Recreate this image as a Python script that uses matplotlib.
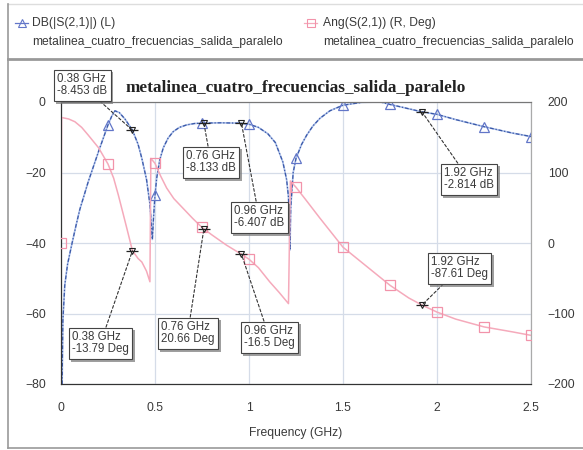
import numpy as np
import matplotlib
matplotlib.use("Agg")
import matplotlib.pyplot as plt
import matplotlib.patheffects as pe
from matplotlib.lines import Line2D

plt.rcParams['font.family'] = ['Liberation Sans', 'DejaVu Sans']

# ---- data: DB(|S(2,1)|) ----
freq_db = [0.005, 0.01, 0.02, 0.035, 0.057, 0.08, 0.10, 0.145, 0.20, 0.23, 0.25, 0.27,
           0.287, 0.31, 0.34, 0.38, 0.41, 0.43, 0.455, 0.473, 0.486, 0.492, 0.50, 0.509,
           0.525, 0.544, 0.57, 0.597, 0.63, 0.668, 0.71, 0.75, 0.85, 0.95, 1.0, 1.05,
           1.10, 1.14, 1.18, 1.20, 1.21, 1.218, 1.222, 1.235, 1.25, 1.28, 1.307, 1.34,
           1.378, 1.43, 1.5, 1.6, 1.7, 1.75, 1.8, 1.92, 2.0, 2.1, 2.25, 2.4, 2.5]
db = [-85, -62, -52, -46, -40.5, -35, -30.5, -22.6, -14, -9.5, -6.5, -4,
      -2.5, -3, -4.8, -8, -12, -16, -22, -29, -39, -33, -26.4, -21.6,
      -16.5, -13, -10.2, -8.4, -7.2, -6.5, -6.1, -6.0, -5.9, -6.0, -6.3, -7.2,
      -9, -11.5, -17, -22, -27, -42, -30, -20, -16, -12, -9.4, -6.8,
      -4.6, -2.5, -0.9, -0.1, 0.0, -0.7, -1.3, -2.8, -3.5, -5, -7, -8.8, -9.8]

# ---- data: Ang(S(2,1)) in degrees ----
freq_ang = [0.0, 0.003, 0.04, 0.074, 0.11, 0.145, 0.20, 0.25, 0.28, 0.305, 0.33, 0.35,
            0.38, 0.41, 0.43, 0.455, 0.473, 0.478, 0.50, 0.53, 0.562, 0.60, 0.65, 0.70,
            0.75, 0.80, 0.88, 0.96, 1.0, 1.05, 1.11, 1.16, 1.21, 1.22, 1.25, 1.30,
            1.375, 1.5, 1.625, 1.75, 1.85, 1.92, 2.0, 2.1, 2.25, 2.4, 2.5]
ang = [0, 178, 176, 172, 164, 153, 135, 112, 92, 68, 42, 21,
       -11, -22, -27, -40, -55, 120, 113, 95, 78, 63, 49, 35,
       22, 12, -3, -16, -23, -35, -55, -70, -86, 88, 79, 62,
       36, -6, -33, -60, -78, -88, -98, -108, -119, -126, -131]

symbol_freqs = [0.0, 0.25, 0.5, 0.75, 1.0, 1.25, 1.5, 1.75, 2.0, 2.25, 2.5]

# markers (frequency, label)
db_marker_freqs = [0.38, 0.76, 0.96, 1.92]
db_marker_labels = ["0.38 GHz\n-8.453 dB", "0.76 GHz\n-8.133 dB",
                    "0.96 GHz\n-6.407 dB", "1.92 GHz\n-2.814 dB"]
ang_marker_freqs = [0.38, 0.76, 0.96, 1.92]
ang_marker_labels = ["0.38 GHz\n-13.79 Deg", "0.76 GHz\n20.66 Deg",
                     "0.96 GHz\n-16.5 Deg", "1.92 GHz\n-87.61 Deg"]

x_ticks = [0, 0.5, 1, 1.5, 2, 2.5]
x_tick_labels = ["0", "0.5", "1", "1.5", "2", "2.5"]
db_ticks = [-80, -60, -40, -20, 0]
ang_ticks = [-200, -100, 0, 100, 200]

title = "metalinea_cuatro_frecuencias_salida_paralelo"
legend1 = ("DB(|S(2,1)|) (L)", title)
legend2 = ("Ang(S(2,1)) (R, Deg)", title)

W, H = 583, 450
fig = plt.figure(figsize=(W / 100, H / 100), dpi=100)

def fp(x, y):
    return (x / W, 1 - y / H)

ax = fig.add_axes([61 / W, 1 - 384 / H, 470 / W, 282 / H])
ax2 = ax.twinx()

blue_light = '#a9bde8'
blue_dark = '#3a58a8'
pink = '#f5aabb'
txt = '#3a3a3a'

# pink angle curve
ax2.plot(freq_ang, ang, color=pink, lw=1.1, zorder=2)
ax2.plot(symbol_freqs, np.interp(symbol_freqs, freq_ang, ang), ls='none', marker='s',
         ms=7, mfc='none', mec='#f293aa', mew=0.9, zorder=3)

# blue dB curve
ax.plot(freq_db, db, color=blue_light, lw=1.2, zorder=2)
ax.plot(freq_db, db, color=blue_dark, lw=0.9, ls=(0, (3, 1.5, 1, 1.5)), zorder=2)
ax.plot(symbol_freqs, np.interp(symbol_freqs, freq_db, db), ls='none', marker='^',
        ms=7, mfc='none', mec='#6276c8', mew=0.9, zorder=3)

ax.set_xlim(0, 2.5)
ax.set_ylim(-80, 0)
ax2.set_ylim(-200, 200)
ax.set_xticks(x_ticks)
ax.set_xticklabels(x_tick_labels)
ax.set_yticks(db_ticks)
ax2.set_yticks(ang_ticks)
ax.grid(True, color='#d5dce8', lw=0.9)
ax.set_axisbelow(True)
ax.tick_params(axis='both', length=0, labelsize=8.7, labelcolor=txt)
ax.tick_params(axis='y', pad=11)
ax.tick_params(axis='x', pad=13)
ax2.tick_params(axis='y', length=0, labelsize=8.7, labelcolor=txt, pad=12)
ax.set_xlabel("Frequency (GHz)", fontsize=8.7, color=txt, labelpad=9)

for a in (ax, ax2):
    a.spines['left'].set_color('#333333')
    a.spines['bottom'].set_color('#333333')
    a.spines['top'].set_color('#777777')
    a.spines['right'].set_color('#aaaaaa')
    a.patch.set_visible(False)

fig.text(*fp(296, 88), title, ha='center', va='center', fontsize=12.4,
         fontweight='bold', family=['Liberation Serif', 'DejaVu Serif'], color='#222222')

# marker symbols
db_my = np.interp(db_marker_freqs, freq_db, db)
ang_my = np.interp(ang_marker_freqs, freq_ang, ang)
for f, v in zip(db_marker_freqs, db_my):
    ax.plot([f], [v], marker='v', ms=4, mfc='none', mec='#222222', mew=0.8, zorder=6)
    ax.plot([f], [v], marker='_', ms=8, mec='#222222', mew=0.9, zorder=6)
for f, v in zip(ang_marker_freqs, ang_my):
    ax2.plot([f], [v], marker='v', ms=4, mfc='none', mec='#222222', mew=0.8, zorder=6)
    ax2.plot([f], [v], marker='_', ms=8, mec='#222222', mew=0.9, zorder=6)

# annotation box positions (top-left of text, in pixels)
db_box_pos = [(57, 73), (186, 150), (234, 205), (444, 167)]
ang_box_pos = [(72, 331), (161, 321), (244, 325), (431, 256)]

def annotate(label, xy, trans, pos):
    a = ax2.annotate(label, xy=xy, xycoords=trans, xytext=fp(*pos),
                     textcoords='figure fraction', ha='left', va='top',
                     fontsize=8.3, color=txt, linespacing=1.05,
                     bbox=dict(boxstyle='square,pad=0.3', fc='white', ec='#444444', lw=0.8),
                     arrowprops=dict(arrowstyle='-', ls=(0, (2.5, 2)), color='#333333',
                                     lw=0.8, shrinkA=0, shrinkB=0),
                     zorder=10, annotation_clip=False)
    a.get_bbox_patch().set_path_effects([
        pe.SimplePatchShadow(offset=(2, -2), shadow_rgbFace='#777777', alpha=0.7),
        pe.Normal()])
    return a

for f, v, lab, pos in zip(db_marker_freqs, db_my, db_marker_labels, db_box_pos):
    annotate(lab, (f, v), ax.transData, pos)
for f, v, lab, pos in zip(ang_marker_freqs, ang_my, ang_marker_labels, ang_box_pos):
    annotate(lab, (f, v), ax2.transData, pos)

# legend area
lx1, lx2 = 15, 304
ly = fp(0, 23)[1]
fig.add_artist(Line2D([lx1 / W, (lx1 + 13) / W], [ly] * 2, color='#6276c8',
                      lw=0.9, transform=fig.transFigure))
fig.add_artist(Line2D([(lx1 + 6.5) / W], [ly], color='#6276c8', marker='^',
                      ms=6, mfc='none', mew=0.8, ls='none', transform=fig.transFigure))
fig.add_artist(Line2D([lx2 / W, (lx2 + 13) / W], [ly] * 2, color=pink,
                      lw=0.9, transform=fig.transFigure))
fig.add_artist(Line2D([(lx2 + 6.5) / W], [ly], color='#f293aa', marker='s',
                      ms=6, mfc='none', mew=0.8, ls='none', transform=fig.transFigure))
fig.text(*fp(32, 23), legend1[0], ha='left', va='center', fontsize=8.7, color=txt)
fig.text(*fp(32, 42), legend1[1], ha='left', va='center', fontsize=8.7, color=txt)
fig.text(*fp(323, 23), legend2[0], ha='left', va='center', fontsize=8.7, color=txt)
fig.text(*fp(323, 42), legend2[1], ha='left', va='center', fontsize=8.7, color=txt)

# frame lines
for (x0, y0, x1, y1, c, lw) in [(8, 4, 583, 4, '#dddddd', 1.0),
                                 (8, 59, 583, 59, '#999999', 2.0),
                                 (8, 4, 8, 448, '#999999', 1.2),
                                 (8, 448, 583, 448, '#999999', 1.2)]:
    fig.add_artist(Line2D([x0 / W, x1 / W], [1 - y0 / H, 1 - y1 / H], color=c, lw=lw,
                          transform=fig.transFigure))

fig.savefig("out.png", dpi=100)
